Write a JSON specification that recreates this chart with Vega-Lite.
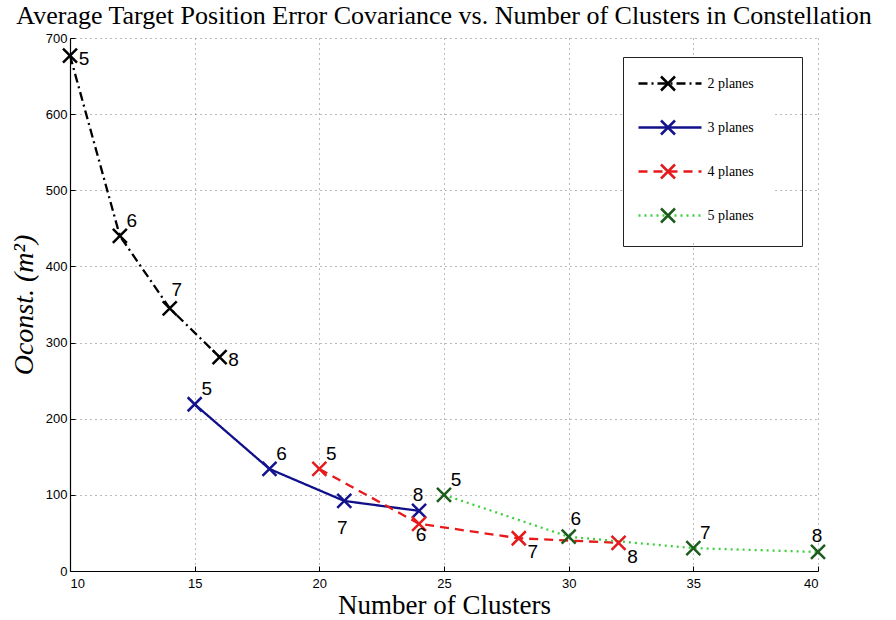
{
  "$schema": "https://vega.github.io/schema/vega-lite/v6.json",
  "width": 748,
  "height": 533,
  "autosize": "none",
  "padding": {"left": 70, "top": 38, "right": 78, "bottom": 49},
  "background": "white",
  "title": {
    "text": "Average Target Position Error Covariance vs. Number of Clusters in Constellation",
    "font": "Liberation Serif",
    "fontSize": 26,
    "fontWeight": "normal",
    "color": "black",
    "anchor": "middle",
    "offset": 3
  },
  "config": {
    "view": {"stroke": null},
    "axis": {
      "domainColor": "black",
      "domainWidth": 1.2,
      "tickColor": "black",
      "tickSize": -5,
      "labelFont": "Liberation Sans",
      "labelFontSize": 13,
      "labelColor": "black",
      "grid": true,
      "gridColor": "#777777",
      "gridDash": [1, 4],
      "gridWidth": 1,
      "titleColor": "black",
      "titleFontWeight": "normal"
    }
  },
  "data": {
    "values": [
      {"clusters": 10, "cov": 677, "planes": "2 planes", "n": 5},
      {"clusters": 12, "cov": 440, "planes": "2 planes", "n": 6},
      {"clusters": 14, "cov": 345, "planes": "2 planes", "n": 7},
      {"clusters": 16, "cov": 281, "planes": "2 planes", "n": 8},
      {"clusters": 15, "cov": 219, "planes": "3 planes", "n": 5},
      {"clusters": 18, "cov": 134, "planes": "3 planes", "n": 6},
      {"clusters": 21, "cov": 92, "planes": "3 planes", "n": 7},
      {"clusters": 24, "cov": 79, "planes": "3 planes", "n": 8},
      {"clusters": 20, "cov": 134, "planes": "4 planes", "n": 5},
      {"clusters": 24, "cov": 62, "planes": "4 planes", "n": 6},
      {"clusters": 28, "cov": 43, "planes": "4 planes", "n": 7},
      {"clusters": 32, "cov": 37, "planes": "4 planes", "n": 8},
      {"clusters": 25, "cov": 100, "planes": "5 planes", "n": 5},
      {"clusters": 30, "cov": 45, "planes": "5 planes", "n": 6},
      {"clusters": 35, "cov": 30, "planes": "5 planes", "n": 7},
      {"clusters": 40, "cov": 25, "planes": "5 planes", "n": 8}
    ]
  },
  "encoding": {
    "x": {
      "field": "clusters",
      "type": "quantitative",
      "scale": {"domain": [10, 40], "nice": false},
      "axis": {
        "values": [10, 15, 20, 25, 30, 35, 40],
        "labelPadding": 11,
        "title": "Number of Clusters",
        "titleFont": "Liberation Serif",
        "titleFontSize": 27,
        "titlePadding": 2
      }
    },
    "y": {
      "field": "cov",
      "type": "quantitative",
      "scale": {"domain": [0, 700], "nice": false},
      "axis": {
        "values": [0, 100, 200, 300, 400, 500, 600, 700],
        "labelPadding": 8,
        "title": "Oconst.  (m²)",
        "titleFont": "Liberation Serif",
        "titleFontStyle": "italic",
        "titleFontSize": 28,
        "titlePadding": 7
      }
    }
  },
  "layer": [
    {
      "mark": {"type": "line", "strokeWidth": 2.3},
      "encoding": {
        "color": {
          "field": "planes",
          "type": "nominal",
          "scale": {
            "domain": ["2 planes", "3 planes", "4 planes", "5 planes"],
            "range": ["#000000", "#10108a", "#e8191b", "#3fcf3f"]
          },
          "legend": null
        },
        "strokeDash": {
          "field": "planes",
          "type": "nominal",
          "scale": {
            "domain": ["2 planes", "3 planes", "4 planes", "5 planes"],
            "range": [[9, 4, 2, 4], [1, 0], [9, 6], [2, 4]]
          },
          "legend": {
            "orient": "none",
            "legendX": 553,
            "legendY": 17,
            "title": null,
            "symbolType": "M-4.5,0H4.5",
            "symbolSize": 196,
            "symbolStrokeWidth": 2.5,
            "symbolFillColor": "transparent",
            "symbolOffset": 18.5,
            "labelOffset": 29,
            "labelFont": "Liberation Serif",
            "labelFontSize": 14,
            "labelColor": "black",
            "rowPadding": 28,
            "padding": 20,
            "fillColor": "white",
            "encode": {
              "symbols": {
                "update": {
                  "stroke": {"signal": "datum.value === '2 planes' ? '#000000' : datum.value === '3 planes' ? '#10108a' : datum.value === '4 planes' ? '#e8191b' : '#3fcf3f'"}
                }
              }
            }
          }
        }
      }
    },
    {
      "mark": {
        "type": "point",
        "shape": "M-1,-1L1,1M-1,1L1,-1",
        "size": 196,
        "strokeWidth": 2.5,
        "filled": false,
        "opacity": 1
      },
      "encoding": {
        "color": {
          "field": "planes",
          "type": "nominal",
          "scale": {
            "domain": ["2 planes", "3 planes", "4 planes", "5 planes"],
            "range": ["#000000", "#13138f", "#e41a1c", "#1d5c1d"]
          },
          "legend": {
            "orient": "none",
            "legendX": 553,
            "legendY": 19,
            "title": null,
            "symbolType": "M-1,-1L1,1M-1,1L1,-1",
            "symbolSize": 196,
            "symbolStrokeWidth": 2.5,
            "symbolOffset": 18.5,
            "labelOffset": 82,
            "labelFont": "Liberation Serif",
            "labelFontSize": 14,
            "labelOpacity": 0,
            "labelExpr": "'MM'",
            "rowPadding": 19,
            "padding": 18,
            "strokeColor": "#222222",
            "encode": {"legend": {"update": {"strokeWidth": {"value": 1.5}}}}
          }
        }
      }
    },
    {
      "transform": [{"filter": "indexof(['2 planes|6','3 planes|5','3 planes|6','4 planes|5','5 planes|5','5 planes|7'], datum.planes + '|' + datum.n) >= 0"}],
      "mark": {"type": "text", "font": "Liberation Sans", "fontSize": 19, "color": "black", "dx": 12, "dy": -15},
      "encoding": {"text": {"field": "n", "type": "nominal"}}
    },
    {
      "transform": [{"filter": "indexof(['2 planes|7','5 planes|6'], datum.planes + '|' + datum.n) >= 0"}],
      "mark": {"type": "text", "font": "Liberation Sans", "fontSize": 19, "color": "black", "dx": 7, "dy": -18},
      "encoding": {"text": {"field": "n", "type": "nominal"}}
    },
    {
      "transform": [{"filter": "indexof(['3 planes|8','5 planes|8'], datum.planes + '|' + datum.n) >= 0"}],
      "mark": {"type": "text", "font": "Liberation Sans", "fontSize": 19, "color": "black", "dx": -1, "dy": -16},
      "encoding": {"text": {"field": "n", "type": "nominal"}}
    },
    {
      "transform": [{"filter": "indexof(['2 planes|5','2 planes|8'], datum.planes + '|' + datum.n) >= 0"}],
      "mark": {"type": "text", "font": "Liberation Sans", "fontSize": 19, "color": "black", "dx": 14, "dy": 3},
      "encoding": {"text": {"field": "n", "type": "nominal"}}
    },
    {
      "transform": [{"filter": "datum.planes == '3 planes' && datum.n == 7"}],
      "mark": {"type": "text", "font": "Liberation Sans", "fontSize": 19, "color": "black", "dx": -2, "dy": 27},
      "encoding": {"text": {"field": "n", "type": "nominal"}}
    },
    {
      "transform": [{"filter": "indexof(['4 planes|7','4 planes|8'], datum.planes + '|' + datum.n) >= 0"}],
      "mark": {"type": "text", "font": "Liberation Sans", "fontSize": 19, "color": "black", "dx": 14, "dy": 14},
      "encoding": {"text": {"field": "n", "type": "nominal"}}
    },
    {
      "transform": [{"filter": "datum.planes == '4 planes' && datum.n == 6"}],
      "mark": {"type": "text", "font": "Liberation Sans", "fontSize": 19, "color": "black", "dx": 2, "dy": 11},
      "encoding": {"text": {"field": "n", "type": "nominal"}}
    }
  ],
  "resolve": {"scale": {"color": "independent"}}
}
